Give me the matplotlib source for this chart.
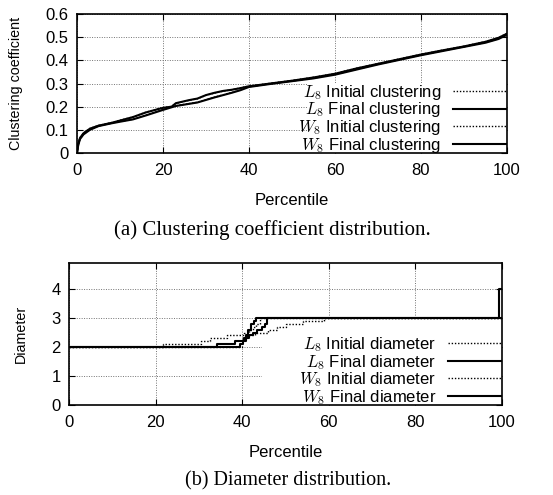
import matplotlib
matplotlib.use('Agg')
import matplotlib.pyplot as plt
from matplotlib.patches import Rectangle

plt.rcParams['font.family'] = ['Liberation Sans', 'DejaVu Sans']
plt.rcParams['mathtext.fontset'] = 'cm'

# clustering coefficient vs percentile
l8_pct = [0, 0.3, 0.7, 1.5, 3, 5, 8, 10, 13, 16, 20, 22, 23, 26, 28, 30, 32, 34, 36, 38,
          40, 45, 50, 55, 60, 65, 70, 75, 80, 85, 90, 95, 98, 100]
l8_init = [0, 0.042, 0.066, 0.086, 0.106, 0.119, 0.131, 0.141, 0.156, 0.176, 0.196, 0.201,
           0.214, 0.227, 0.234, 0.249, 0.259, 0.267, 0.273, 0.281, 0.289, 0.301, 0.313,
           0.327, 0.343, 0.366, 0.386, 0.406, 0.426, 0.444, 0.461, 0.481, 0.498, 0.516]
l8_final = [0, 0.04, 0.065, 0.085, 0.105, 0.118, 0.13, 0.14, 0.155, 0.175, 0.195, 0.2,
            0.215, 0.228, 0.235, 0.25, 0.26, 0.268, 0.273, 0.28, 0.288, 0.3, 0.312,
            0.326, 0.342, 0.365, 0.385, 0.405, 0.425, 0.443, 0.46, 0.48, 0.497, 0.515]
w8_pct = [0, 0.3, 0.7, 1.5, 3, 5, 8, 10, 13, 16, 20, 23, 26, 28, 30, 32, 34, 36, 38,
          40, 45, 50, 55, 60, 65, 70, 75, 80, 85, 90, 95, 98, 100]
w8_init = [0, 0.036, 0.061, 0.081, 0.101, 0.117, 0.129, 0.136, 0.146, 0.163, 0.187, 0.204,
           0.213, 0.219, 0.23, 0.241, 0.251, 0.261, 0.272, 0.286, 0.299, 0.311, 0.323,
           0.339, 0.361, 0.383, 0.403, 0.423, 0.441, 0.459, 0.477, 0.493, 0.511]
w8_final = [0, 0.035, 0.06, 0.08, 0.1, 0.116, 0.128, 0.135, 0.145, 0.162, 0.186, 0.203,
            0.212, 0.218, 0.229, 0.24, 0.25, 0.26, 0.271, 0.285, 0.298, 0.31, 0.322,
            0.338, 0.36, 0.382, 0.402, 0.422, 0.44, 0.458, 0.476, 0.492, 0.51]

# diameter vs percentile (step curves)
l8i_pct = [0, 21.8, 30.5, 32.5, 36.5, 40.5, 41.5, 42.5, 43.2, 44, 100]
l8i_dia = [2, 2.1, 2.2, 2.3, 2.4, 2.5, 2.6, 2.7, 2.8, 3, 3]
l8f_pct = [0, 39.5, 40.2, 40.8, 41.3, 42, 42.8, 43.3, 99.3, 100]
l8f_dia = [2, 2.1, 2.2, 2.4, 2.6, 2.8, 2.9, 3, 4, 4]
w8i_pct = [0, 40, 41, 43, 46, 48, 50, 54, 59, 100]
w8i_dia = [2, 2.3, 2.4, 2.5, 2.6, 2.7, 2.8, 2.9, 3, 3]
w8f_pct = [0, 34.2, 38.3, 40.5, 41.5, 42.5, 43.5, 44.5, 45.2, 45.7, 100]
w8f_dia = [2, 2.1, 2.2, 2.3, 2.4, 2.5, 2.6, 2.7, 2.8, 3, 3]

x_ticks = [0, 20, 40, 60, 80, 100]

dotted = (0, (1, 1.3))
fs = 12


def style(ax, h_px):
    ax.grid(True, color='0.45', linestyle=(0, (1, 1.5)), linewidth=0.7, zorder=0)
    ax.set_axisbelow(True)
    ax.tick_params(direction='in', top=True, right=True, length=4, labelsize=fs)
    ax.tick_params(axis='x', pad=7)
    ax.tick_params(axis='y', pad=6)
    for s in ax.spines.values():
        s.set_linewidth(1.2)
        s.set_zorder(5)
    ax.xaxis.set_label_coords(0.5, -40 / h_px)


def add_legend(ax, h_px):
    leg = ax.legend(loc='lower right', bbox_to_anchor=(1, -2.5 / h_px),
                    frameon=False, markerfirst=False, fontsize=fs,
                    handlelength=3.2, handletextpad=0.7, labelspacing=-0.08,
                    borderaxespad=0.0, borderpad=0.05)
    leg.set_zorder(4)


fig = plt.figure(figsize=(5.53, 4.95), dpi=100)

# (a) clustering
ax1 = fig.add_axes([77 / 553, 1 - 153 / 495, 430 / 553, 139 / 495])
style(ax1, 139)
ax1.add_patch(Rectangle((0.535, 0), 0.465, 0.505, transform=ax1.transAxes,
                        facecolor='white', edgecolor='none', zorder=1))
ax1.plot(l8_pct, l8_init, color='black', linestyle=dotted, lw=1, zorder=2,
         label=r'$L_8$ Initial clustering')
ax1.plot(l8_pct, l8_final, color='black', lw=1.5, zorder=2,
         label=r'$L_8$ Final clustering')
ax1.plot(w8_pct, w8_init, color='black', linestyle=dotted, lw=1, zorder=2,
         label=r'$W_8$ Initial clustering')
ax1.plot(w8_pct, w8_final, color='black', lw=1.5, zorder=2,
         label=r'$W_8$ Final clustering')
ax1.set_xlim(0, 100)
ax1.set_ylim(0, 0.6)
ax1.set_xticks(x_ticks)
ax1.set_yticks([0, 0.1, 0.2, 0.3, 0.4, 0.5, 0.6])
ax1.set_yticklabels(['0', '0.1', '0.2', '0.3', '0.4', '0.5', '0.6'])
ax1.set_xlabel('Percentile', fontsize=fs)
ax1.set_ylabel('Clustering coefficient', fontsize=10.3)
ax1.yaxis.set_label_coords(-54 / 430, 0.5)
add_legend(ax1, 139)

# (b) diameter
ax2 = fig.add_axes([69 / 553, 1 - 405 / 495, 433 / 553, 142 / 495])
style(ax2, 142)
ax2.add_patch(Rectangle((0.446, 0), 0.554, 0.61, transform=ax2.transAxes,
                        facecolor='white', edgecolor='none', zorder=1))
ax2.step(l8i_pct, l8i_dia, where='post', color='black', linestyle=dotted, lw=1, zorder=2,
         label=r'$L_8$ Initial diameter')
ax2.step(l8f_pct, l8f_dia, where='post', color='black', lw=1.5, zorder=2,
         label=r'$L_8$ Final diameter')
ax2.step(w8i_pct, w8i_dia, where='post', color='black', linestyle=dotted, lw=1, zorder=2,
         label=r'$W_8$ Initial diameter')
ax2.step(w8f_pct, w8f_dia, where='post', color='black', lw=1.5, zorder=2,
         label=r'$W_8$ Final diameter')
ax2.set_xlim(0, 100)
ax2.set_ylim(0, 4.9)
ax2.set_xticks(x_ticks)
ax2.set_yticks([0, 1, 2, 3, 4])
ax2.set_xlabel('Percentile', fontsize=fs)
ax2.set_ylabel('Diameter', fontsize=10.3)
ax2.yaxis.set_label_coords(-41 / 433, 0.5)
add_legend(ax2, 142)

fig.text(272 / 553, 1 - 230 / 495, '(a) Clustering coefficient distribution.',
         ha='center', va='center', family='Liberation Serif', fontsize=15)
fig.text(288 / 553, 1 - 481 / 495, '(b) Diameter distribution.',
         ha='center', va='center', family='Liberation Serif', fontsize=14.5)

fig.savefig('out.png', dpi=100)
